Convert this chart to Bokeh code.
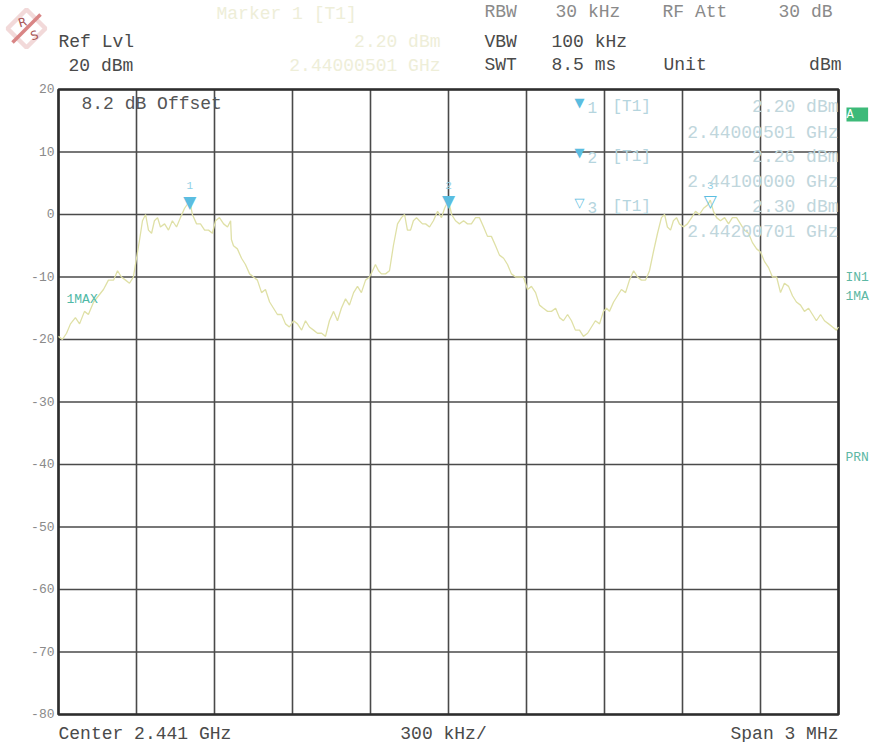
from bokeh.plotting import figure
from bokeh.models import Label, PolyAnnotation, Arrow, ColumnDataSource, Range1d
from bokeh.core.properties import value
from bokeh.embed import file_html
from bokeh.resources import INLINE

# ---------------- data ----------------
center_mhz = 2441.0
span_mhz = 3.0
ref_level_dbm = 20
y_bottom_dbm = -80
y_ticks = [20, 10, 0, -10, -20, -30, -40, -50, -60, -70, -80]

# trace: frequency offset from start of span (MHz) and level (dBm)
freq_offset_mhz = [
    0.000, 0.015, 0.031, 0.046, 0.065, 0.081, 0.100, 0.115, 0.135, 0.154,
    0.173, 0.192, 0.212, 0.227, 0.242, 0.258, 0.273, 0.288, 0.300, 0.312,
    0.323, 0.335, 0.346, 0.358, 0.369, 0.381, 0.392, 0.408, 0.423, 0.438,
    0.454, 0.469, 0.485, 0.505, 0.515, 0.531, 0.546, 0.562, 0.577, 0.592,
    0.604, 0.619, 0.635, 0.650, 0.662, 0.665, 0.673, 0.688, 0.704, 0.719,
    0.735, 0.750, 0.765, 0.781, 0.796, 0.812, 0.827, 0.842, 0.858, 0.873,
    0.888, 0.904, 0.919, 0.935, 0.950, 0.965, 0.981, 0.996, 1.012, 1.027,
    1.042, 1.058, 1.073, 1.088, 1.104, 1.119, 1.135, 1.150, 1.165, 1.181,
    1.196, 1.208, 1.219, 1.231, 1.242, 1.258, 1.273, 1.288, 1.304, 1.319,
    1.331, 1.342, 1.354, 1.365, 1.377, 1.388, 1.400, 1.412, 1.427, 1.442,
    1.458, 1.473, 1.485, 1.500, 1.512, 1.527, 1.542, 1.558, 1.573, 1.588,
    1.604, 1.619, 1.635, 1.650, 1.665, 1.681, 1.696, 1.712, 1.727, 1.742,
    1.758, 1.773, 1.788, 1.804, 1.819, 1.835, 1.850, 1.865, 1.881, 1.896,
    1.912, 1.927, 1.942, 1.958, 1.973, 1.988, 2.004, 2.019, 2.035, 2.050,
    2.065, 2.081, 2.096, 2.108, 2.119, 2.135, 2.150, 2.165, 2.181, 2.196,
    2.212, 2.227, 2.242, 2.258, 2.273, 2.288, 2.304, 2.319, 2.331, 2.342,
    2.354, 2.365, 2.377, 2.388, 2.404, 2.419, 2.435, 2.450, 2.465, 2.481,
    2.496, 2.507, 2.519, 2.531, 2.546, 2.562, 2.577, 2.592, 2.608, 2.623,
    2.638, 2.654, 2.669, 2.685, 2.700, 2.715, 2.731, 2.746, 2.762, 2.777,
    2.792, 2.808, 2.823, 2.838, 2.854, 2.869, 2.885, 2.900, 2.915, 2.931,
    2.946, 2.962, 2.977, 2.992, 3.000,
]
level_dbm = [
    -19.5, -20, -19, -17.5, -16.5, -17.5, -15.5, -16, -14, -13,
    -12, -10.5, -10.5, -9, -10, -10.5, -11, -10, -7, -4,
    -1, 0, -2.5, -3, -1, -0.5, -2, -1.5, -2.5, -1,
    -2, -0.5, 1, 2.2, 0, -1.5, -1.5, -2.5, -2.5, -3,
    -1, -0.5, -1.5, -2, -1, -4, -5, -5.5, -7, -8,
    -9.5, -10, -10.5, -12.5, -12, -14, -15, -16, -16, -17.5,
    -18, -17, -17.5, -18.5, -17, -18, -18.5, -19, -19, -19.5,
    -17, -15.5, -17, -15, -13.5, -14.5, -12.5, -11.5, -12.5, -10.5,
    -10, -9, -8, -9, -9.5, -9.5, -9, -5, -1.5, -0.5,
    0, -2.5, -2.5, -1, -0.5, -1, -1.5, -1.5, -2, -1,
    0.5, -0.5, 1, 2.26, 0, -1, -1.5, -1, -1.5, -1.5,
    -0.5, -0.5, -2, -3.5, -3.5, -5, -6.5, -7, -8, -9.5,
    -10, -10, -10, -12, -11.5, -12.5, -14.5, -15, -15.5, -15.5,
    -15, -16.5, -17, -16, -17, -18.5, -18.5, -19.5, -19, -18,
    -17, -17.5, -15.5, -15, -15.5, -14, -13, -12, -12.5, -10.5,
    -9, -10, -10.5, -10.5, -9, -6, -3, -0.5, 0, -2,
    -2.5, -1, -0.5, -1.5, -2, -1.5, -0.5, 0.5, 0, 1,
    1.5, 2.3, 0.5, -0.5, -1, -0.5, -1.5, -0.5, -0.5, -1.5,
    -2.5, -3, -4.5, -5.5, -6, -7.5, -8.5, -10, -10, -12.5,
    -11, -11.5, -13, -14, -14.5, -15.5, -15, -16, -17, -16,
    -17, -17.5, -18, -18.5, -18,
]

marker_names = ["1", "2", "3"]
marker_freq_ghz = [2.44000501, 2.44100000, 2.44200701]
marker_level_dbm = [2.20, 2.26, 2.30]
marker_symbols = ["\u25BC", "\u25BC", "\u25BD"]

# ---------------- layout (canvas pixels) ----------------
W, H = 872, 742
PL, PR, PT, PB = 58, 838, 89, 714          # plot-area edges on the canvas
MONO = "Liberation Mono"

start_mhz = center_mhz - span_mhz / 2
end_mhz = center_mhz + span_mhz / 2
x_trace = [start_mhz + f for f in freq_offset_mhz]
x_ticks = [start_mhz + i * span_mhz / 10 for i in range(11)]

mhz_per_px = span_mhz / (PR - PL)
db_per_px = (ref_level_dbm - y_bottom_dbm) / (PB - PT)
x_range = Range1d(start_mhz - PL * mhz_per_px, end_mhz + (W - PR) * mhz_per_px)
y_range = Range1d(y_bottom_dbm - (H - PB) * db_per_px, ref_level_dbm + PT * db_per_px)

p = figure(width=W, height=H, output_backend="svg", toolbar_location=None,
           x_range=x_range, y_range=y_range,
           x_axis_location=None, y_axis_location=None,
           min_border=0)
p.grid.visible = False
p.outline_line_color = None
p.background_fill_color = "white"
p.border_fill_color = "white"

# graticule from tick lists
GRID = "#4a4a4a"
p.segment(x0=x_ticks, y0=[y_bottom_dbm] * len(x_ticks), x1=x_ticks, y1=[ref_level_dbm] * len(x_ticks),
          line_color=GRID, line_width=1.6)
p.segment(x0=[start_mhz] * len(y_ticks), y0=y_ticks, x1=[end_mhz] * len(y_ticks), y1=y_ticks,
          line_color=GRID, line_width=1.6)
p.quad(left=[start_mhz], right=[end_mhz], bottom=[y_bottom_dbm], top=[ref_level_dbm],
       fill_color=None, line_color="#2e2e2e", line_width=2.6)

# y tick labels
p.text(x=[start_mhz] * len(y_ticks), y=y_ticks, text=[str(t) for t in y_ticks],
       text_font=value(MONO), text_font_size="13px", text_color="#8a8a8a",
       text_align="right", text_baseline="middle", x_offset=-4, y_offset=-1)

# trace
src = ColumnDataSource(dict(x=x_trace, y=level_dbm))
p.line("x", "y", source=src, line_color="#dfe0a6", line_width=1.3)

# markers
msrc = ColumnDataSource(dict(x=[f * 1000 for f in marker_freq_ghz], y=marker_level_dbm,
                             sym=marker_symbols, name=marker_names))
p.text("x", "y", text="sym", source=msrc, text_font=value("DejaVu Sans"),
       text_font_size="17px", text_color="#5bbde0", text_align="center",
       text_baseline="alphabetic", y_offset=1)
p.text("x", "y", text="name", source=msrc, text_font=value(MONO),
       text_font_size="11px", text_color="#8fd0e6", text_align="center",
       text_baseline="alphabetic", y_offset=-15)


def lab(px, py, text, size="18px", color="#4a4a4a", align="left", font=MONO, **kw):
    p.add_layout(Label(x=px, y=H - py, x_units="screen", y_units="screen",
                       text=text, text_font=font, text_font_size=size,
                       text_color=color, text_align=align, text_baseline="middle", **kw))


# R&S logo
p.add_layout(PolyAnnotation(xs=[26, 45, 26, 7], ys=[H - 9, H - 28, H - 47, H - 28],
                            xs_units="screen", ys_units="screen",
                            fill_color="white", fill_alpha=1, line_color="#d48080", line_width=4.5))
p.add_layout(Arrow(end=None, x_start=12, y_start=H - 42, x_end=40, y_end=H - 14,
                   start_units="screen", end_units="screen", line_color="#d98585", line_width=3.5))
lab(22, 22, "R", size="12px", color="#a85555", align="center", font="DejaVu Sans", angle=0.3)
lab(34, 35, "S", size="12px", color="#a85555", align="center", font="DejaVu Sans", angle=0.3)

# header
lab(58, 41, "Ref Lvl")
lab(68, 65, f"{ref_level_dbm} dBm")
faint = "#eeeed8"
lab(216, 13, "Marker 1 [T1]", color=faint)
lab(440, 41, f"{marker_level_dbm[0]:.2f} dBm", color=faint, align="right")
lab(440, 65, f"{marker_freq_ghz[0]:.8f} GHz", color=faint, align="right")
lab(484, 11, "RBW", color="#8a8a8a")
lab(555, 11, "30 kHz", color="#8a8a8a")
lab(662, 11, "RF Att", color="#8a8a8a")
lab(832, 11, "30 dB", color="#8a8a8a", align="right")
lab(484, 41, "VBW")
lab(551, 41, "100 kHz")
lab(484, 64, "SWT")
lab(551, 64, "8.5 ms")
lab(663, 64, "Unit")
lab(841, 64, "dBm", align="right")

# inside plot
lab(81, 103, "8.2 dB Offset", color="#555555")
lab(66, 299, "1MAX", size="13px", color="#4fb9a6")

row_y = [(106, 132), (156, 181), (206, 231)]
for i in range(3):
    ya, yb = row_y[i]
    lab(579, ya - 4, marker_symbols[i], size="13px", color="#5bbde0", align="center", font="DejaVu Sans")
    lab(587, ya + 1, marker_names[i], size="16px", color="#b5d5de")
    lab(612, ya, "[T1]", size="16px", color="#b5d5de")
    lab(838, ya, f"{marker_level_dbm[i]:.2f} dBm", color="#c0d6dc", align="right")
    lab(838, yb, f"{marker_freq_ghz[i]:.8f} GHz", color="#c0d6dc", align="right")

# right side
p.add_layout(Label(x=846, y=H - 114, x_units="screen", y_units="screen", text=" A ",
                   text_font=MONO, text_font_size="12px", text_color="white",
                   background_fill_color="#3dba79", text_baseline="middle"))
lab(845, 277, "IN1", size="13px", color="#5db8a4")
lab(845, 296, "1MA", size="13px", color="#5db8a4")
lab(845, 457, "PRN", size="13px", color="#5db8a4")

# bottom
lab(58, 733, f"Center {center_mhz / 1000:.3f} GHz")
lab(443, 733, f"{span_mhz * 1000 / 10:.0f} kHz/", align="center")
lab(838, 733, f"Span {span_mhz:.0f} MHz", align="right")

open("out.html", "w").write(file_html(p, INLINE))
